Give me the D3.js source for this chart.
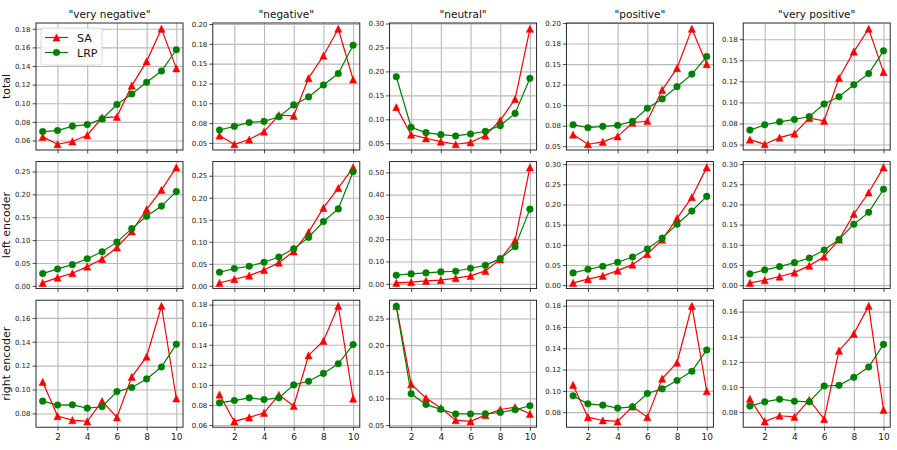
<!DOCTYPE html>
<html><head><meta charset="utf-8">
<script src="https://cdn.jsdelivr.net/npm/d3@7"></script>
<style>body{margin:0;background:#fff}svg{display:block;font-family:"DejaVu Sans",sans-serif}</style>
</head><body><svg id="c" width="897" height="450"></svg>
<script>
const categories = ['"very negative"', '"negative"', '"neutral"', '"positive"', '"very positive"'];
const rowLabels = ["total", "left encoder", "right encoder"];
const xValues = [1,2,3,4,5,6,7,8,9,10];
const xTicks = [2,4,6,8,10];
const seriesNames = ["SA", "LRP"];

const saTotal = [
  [0.0639,0.0560,0.0590,0.0657,0.0846,0.0854,0.1190,0.1450,0.1800,0.1375],
  [0.0592,0.0483,0.0542,0.0642,0.0850,0.0842,0.1317,0.1600,0.1940,0.1300],
  [0.1254,0.0680,0.0604,0.0535,0.0480,0.0520,0.0661,0.0980,0.1420,0.2890],
  [0.0641,0.0524,0.0552,0.0620,0.0786,0.0807,0.1185,0.1451,0.1930,0.1500],
  [0.0559,0.0504,0.0582,0.0629,0.0813,0.0782,0.1290,0.1603,0.1874,0.1360]
];
const lrpTotal = [
  [0.0696,0.0707,0.0754,0.0771,0.0832,0.0986,0.1100,0.1225,0.1346,0.1575],
  [0.0663,0.0708,0.0758,0.0771,0.0829,0.0979,0.1080,0.1230,0.1375,0.1733],
  [0.1889,0.0834,0.0722,0.0680,0.0653,0.0695,0.0750,0.0868,0.1124,0.1855],
  [0.0762,0.0725,0.0741,0.0754,0.0802,0.0963,0.1076,0.1225,0.1378,0.1592],
  [0.0672,0.0735,0.0770,0.0798,0.0833,0.0982,0.1068,0.1209,0.1342,0.1612]
];
const saLeft = [
  [0.0065,0.0180,0.0275,0.0420,0.0585,0.0838,0.1190,0.1670,0.2097,0.2590],
  [0.0068,0.0150,0.0233,0.0360,0.0527,0.0783,0.1220,0.1770,0.2220,0.2690],
  [0.0045,0.0074,0.0134,0.0164,0.0253,0.0357,0.0580,0.1100,0.1950,0.5223],
  [0.0057,0.0148,0.0230,0.0360,0.0508,0.0770,0.1130,0.1656,0.2180,0.2920],
  [0.0057,0.0123,0.0213,0.0310,0.0484,0.0705,0.1130,0.1763,0.2295,0.2918]
];
const lrpLeft = [
  [0.0267,0.0369,0.0463,0.0593,0.0745,0.0955,0.1250,0.1519,0.1743,0.2060],
  [0.0309,0.0392,0.0444,0.0535,0.0655,0.0843,0.1100,0.1460,0.1747,0.2590],
  [0.0387,0.0446,0.0490,0.0536,0.0565,0.0700,0.0830,0.1130,0.1667,0.3350],
  [0.0303,0.0394,0.0467,0.0566,0.0697,0.0894,0.1165,0.1510,0.1837,0.2200],
  [0.0279,0.0377,0.0459,0.0557,0.0672,0.0869,0.1130,0.1510,0.1803,0.2377]
];
const saRight = [
  [0.1064,0.0778,0.0744,0.0733,0.0903,0.0767,0.1106,0.1275,0.1700,0.0925],
  [0.0904,0.0636,0.0676,0.0722,0.0901,0.0790,0.1294,0.1439,0.1787,0.0864],
  [0.2736,0.1267,0.1006,0.0820,0.0593,0.0568,0.0686,0.0792,0.0835,0.0711],
  [0.1056,0.0753,0.0722,0.0713,0.0853,0.0753,0.1115,0.1265,0.1797,0.0997],
  [0.0906,0.0726,0.0771,0.0763,0.0898,0.0745,0.1289,0.1423,0.1645,0.0818]
];
const lrpRight = [
  [0.0903,0.0870,0.0872,0.0844,0.0856,0.0983,0.1017,0.1089,0.1189,0.1380],
  [0.0821,0.0844,0.0871,0.0854,0.0871,0.1000,0.1036,0.1115,0.1211,0.1402],
  [0.2730,0.1087,0.0888,0.0795,0.0708,0.0708,0.0711,0.0736,0.0786,0.0863],
  [0.0953,0.0878,0.0866,0.0838,0.0850,0.0975,0.1019,0.1097,0.1184,0.1384],
  [0.0848,0.0882,0.0903,0.0887,0.0882,0.1008,0.1013,0.1077,0.1159,0.1339]
];

const yTickValues = [
  [[.06,.08,.10,.12,.14,.16,.18],[.05,.075,.1,.125,.15,.175,.2],[.05,.1,.15,.2,.25,.3],[.05,.075,.1,.125,.15,.175,.2],[.05,.075,.1,.125,.15,.175]],
  [[0,.05,.1,.15,.2,.25],[0,.05,.1,.15,.2,.25],[0,.1,.2,.3,.4,.5],[0,.05,.1,.15,.2,.25,.3],[0,.05,.1,.15,.2,.25,.3]],
  [[.08,.1,.12,.14,.16],[.06,.08,.1,.12,.14,.16,.18],[.05,.1,.15,.2,.25],[.08,.1,.12,.14,.16,.18],[.08,.1,.12,.14,.16]]
];
const yTickLabels = [
  [["0.06","0.08","0.10","0.12","0.14","0.16","0.18"],["0.05","0.08","0.10","0.12","0.15","0.18","0.20"],["0.05","0.10","0.15","0.20","0.25","0.30"],["0.05","0.08","0.10","0.12","0.15","0.18","0.20"],["0.05","0.08","0.10","0.12","0.15","0.18"]],
  [["0.00","0.05","0.10","0.15","0.20","0.25"],["0.00","0.05","0.10","0.15","0.20","0.25"],["0.00","0.10","0.20","0.30","0.40","0.50"],["0.00","0.05","0.10","0.15","0.20","0.25","0.30"],["0.00","0.05","0.10","0.15","0.20","0.25","0.30"]],
  [["0.08","0.10","0.12","0.14","0.16"],["0.06","0.08","0.10","0.12","0.14","0.16","0.18"],["0.05","0.10","0.15","0.20","0.25"],["0.08","0.10","0.12","0.14","0.16","0.18"],["0.08","0.10","0.12","0.14","0.16"]]
];

const rowsData = [[saTotal, lrpTotal], [saLeft, lrpLeft], [saRight, lrpRight]];
const colors = ["#ff0000", "#008000"];

const svg = d3.select("#c");
const plotW = 147, plotH = 127;
const colLeft = i => 36 + i * 176.8;
const rowTop = j => 23 + j * 138.6;

function triPath(s) { return `M0,${-s}L${-s},${s}L${s},${s}Z`; }

function drawMarker(g, kind, x, y, color) {
  if (kind === 0) {
    g.append("path").attr("d", triPath(3.6)).attr("transform", `translate(${x},${y})`).attr("fill", color).attr("stroke", color).attr("stroke-width", 0.5);
  } else {
    g.append("circle").attr("cx", x).attr("cy", y).attr("r", 3.3).attr("fill", color).attr("stroke", color).attr("stroke-width", 0.5);
  }
}

rowsData.forEach((pair, j) => {
  categories.forEach((cat, i) => {
    const left = colLeft(i), top = rowTop(j);
    const all = pair[0][i].concat(pair[1][i]);
    const mn = d3.min(all), mx = d3.max(all), pad = (mx - mn) * 0.05;
    const x = d3.scaleLinear().domain([0.55, 10.45]).range([left, left + plotW]);
    const y = d3.scaleLinear().domain([mn - pad, mx + pad]).range([top + plotH, top]);
    const g = svg.append("g");

    // grid
    g.append("g").attr("transform", `translate(0,${top + plotH})`)
      .call(d3.axisBottom(x).tickValues(xTicks).tickSize(-plotH).tickFormat(""))
      .call(a => { a.select(".domain").remove(); a.selectAll("line").attr("stroke", "#b8b8b8").attr("stroke-width", 1.1); });
    g.append("g").attr("transform", `translate(${left},0)`)
      .call(d3.axisLeft(y).tickValues(yTickValues[j][i]).tickSize(-plotW).tickFormat(""))
      .call(a => { a.select(".domain").remove(); a.selectAll("line").attr("stroke", "#b8b8b8").attr("stroke-width", 1.1); });

    // axes ticks
    const ya = g.append("g").attr("transform", `translate(${left},0)`)
      .call(d3.axisLeft(y).tickValues(yTickValues[j][i]).tickSize(3.5).tickPadding(2)
        .tickFormat((d, k) => yTickLabels[j][i][k]));
    ya.select(".domain").remove();
    ya.selectAll("text").attr("font-size", 7).attr("fill", "#222").attr("font-family", "DejaVu Sans");
    ya.selectAll("line").attr("stroke", "#222").attr("stroke-width", 0.8);

    const xa = g.append("g").attr("transform", `translate(0,${top + plotH})`)
      .call(d3.axisBottom(x).tickValues(xTicks).tickSize(3.5).tickPadding(2.5)
        .tickFormat(j === 2 ? d3.format("d") : ""));
    xa.select(".domain").remove();
    xa.selectAll("text").attr("font-size", 9).attr("fill", "#222").attr("font-family", "DejaVu Sans");
    xa.selectAll("line").attr("stroke", "#222").attr("stroke-width", 0.8);

    // series
    pair.forEach((series, s) => {
      const vals = series[i];
      const line = d3.line().x((d, k) => x(xValues[k])).y(d => y(d));
      g.append("path").datum(vals).attr("d", line).attr("fill", "none")
        .attr("stroke", colors[s]).attr("stroke-width", 1.2);
      vals.forEach((v, k) => drawMarker(g, s, x(xValues[k]), y(v), colors[s]));
    });

    // frame
    g.append("rect").attr("x", left).attr("y", top).attr("width", plotW).attr("height", plotH)
      .attr("fill", "none").attr("stroke", "#111").attr("stroke-width", 0.9);

    if (j === 0) {
      svg.append("text").attr("x", left + plotW / 2).attr("y", top - 5)
        .attr("text-anchor", "middle").attr("font-size", 10.5).attr("fill", "#111").text(cat);
    }
    if (j === 0 && i === 0) {
      const lg = svg.append("g");
      lg.append("rect").attr("x", left + 5).attr("y", top + 5).attr("width", 61).attr("height", 37)
        .attr("rx", 2).attr("fill", "#fff").attr("fill-opacity", 0.85).attr("stroke", "#d0d0d0").attr("stroke-width", 0.8);
      seriesNames.forEach((nm, s) => {
        const yy = top + 14.5 + s * 15;
        lg.append("line").attr("x1", left + 9).attr("x2", left + 32).attr("y1", yy).attr("y2", yy)
          .attr("stroke", colors[s]).attr("stroke-width", 1.2);
        drawMarker(lg, s, left + 20.5, yy, colors[s]);
        lg.append("text").attr("x", left + 41).attr("y", yy + 4).attr("font-size", 11).attr("fill", "#111").text(nm);
      });
    }
  });
  svg.append("text").attr("transform", `translate(10,${rowTop(j) + plotH / 2}) rotate(-90)`)
    .attr("text-anchor", "middle").attr("font-size", 11).attr("fill", "#111").text(rowLabels[j]);
});
</script></body></html>
